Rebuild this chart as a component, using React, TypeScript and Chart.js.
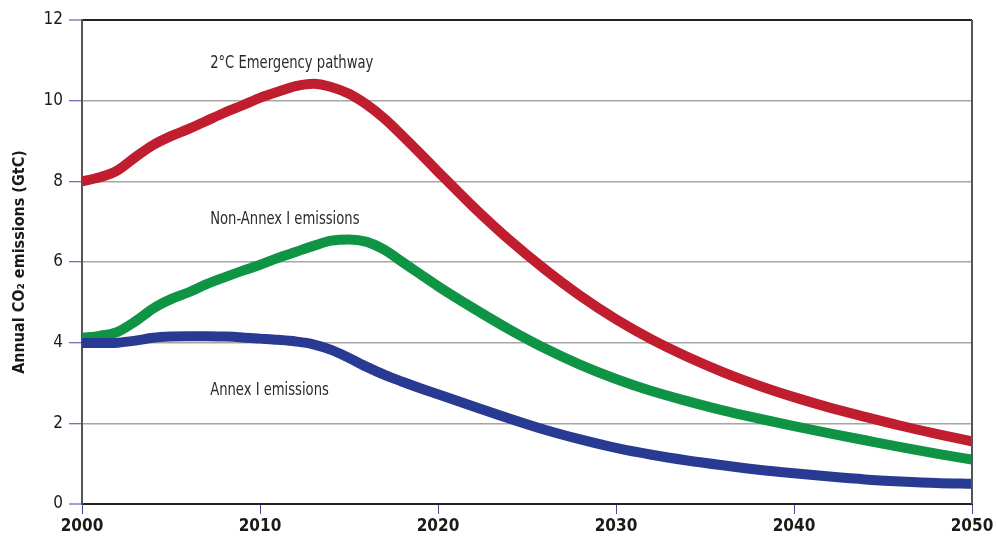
import React, { useEffect, useRef } from "react";
import { Chart, registerables } from "chart.js";

Chart.register(...registerables);

const years = [
  2000, 2001, 2002, 2003, 2004, 2005, 2006, 2007, 2008, 2009, 2010,
  2011, 2012, 2013, 2014, 2015, 2016, 2017, 2018, 2019, 2020,
  2022, 2024, 2026, 2028, 2030, 2032, 2034, 2036, 2038, 2040,
  2042, 2044, 2046, 2048, 2050,
];
const emergencyPathway = [
  8.0, 8.1, 8.27, 8.6, 8.9, 9.12, 9.3, 9.5, 9.7, 9.88, 10.07,
  10.22, 10.36, 10.42, 10.34, 10.17, 9.9, 9.55, 9.13, 8.69, 8.24,
  7.36, 6.55, 5.82, 5.16, 4.58, 4.08, 3.65, 3.27, 2.94, 2.65,
  2.39, 2.16, 1.94, 1.74, 1.55,
];
const nonAnnexI = [
  4.12, 4.17, 4.27, 4.53, 4.85, 5.08, 5.25, 5.45, 5.62, 5.78, 5.93,
  6.1, 6.25, 6.4, 6.53, 6.56, 6.5, 6.3, 6.0, 5.7, 5.4,
  4.85, 4.33, 3.86, 3.45, 3.1, 2.8, 2.55, 2.32, 2.12, 1.93,
  1.75, 1.58, 1.41, 1.25, 1.1,
];
const annexI = [
  3.99, 3.99, 4.0, 4.05, 4.12, 4.15, 4.16, 4.16, 4.15, 4.13, 4.1,
  4.07, 4.03, 3.96, 3.82, 3.62, 3.4, 3.2, 3.03, 2.87, 2.72,
  2.42, 2.12, 1.84, 1.6, 1.39, 1.22, 1.08, 0.96, 0.85, 0.76,
  0.68, 0.61, 0.56, 0.52, 0.5,
];

const xTicks = [2000, 2010, 2020, 2030, 2040, 2050];
const yTicks = [0, 2, 4, 6, 8, 10, 12];

const labelTexts = ["2°C Emergency pathway", "Non-Annex I emissions", "Annex I emissions"];
const labelYears = [2007.2, 2007.2, 2007.2];
const labelValues = [10.92, 7.05, 2.8];

const COND = '"Liberation Sans Narrow", "DejaVu Sans Condensed", "Roboto Condensed", "Liberation Sans", sans-serif';
const TICK_BLUE = "#3b4aa6";

const textPlugin = {
  id: "curveLabels",
  afterDatasetsDraw(chart: any) {
    const { ctx, scales } = chart;
    ctx.save();
    ctx.font = `17px ${COND}`;
    ctx.fillStyle = "#2b2b2b";
    ctx.textAlign = "left";
    ctx.textBaseline = "middle";
    labelTexts.forEach((t, i) => {
      const w = ctx.measureText(t).width * 0.86;
      ctx.fillText(t, scales.x.getPixelForValue(labelYears[i]), scales.y.getPixelForValue(labelValues[i]), w);
    });
    const a = chart.chartArea;
    ctx.strokeStyle = "#555";
    ctx.lineWidth = 2;
    ctx.beginPath();
    ctx.moveTo(a.right, a.top);
    ctx.lineTo(a.right, a.bottom);
    ctx.stroke();
    ctx.restore();
  },
};

export default function App() {
  const ref = useRef<HTMLCanvasElement | null>(null);
  useEffect(() => {
    if (!ref.current) return;
    const mk = (vals: number[]) => years.map((x, i) => ({ x, y: vals[i] }));
    const chart = new Chart(ref.current, {
      type: "line",
      data: {
        datasets: [
          { label: "Annex I emissions", data: mk(annexI), borderColor: "#283a92", borderWidth: 10 },
          { label: "Non-Annex I emissions", data: mk(nonAnnexI), borderColor: "#0f9446", borderWidth: 10 },
          { label: "2°C Emergency pathway", data: mk(emergencyPathway), borderColor: "#c01d2f", borderWidth: 10 },
        ],
      },
      options: {
        animation: false,
        responsive: false,
        maintainAspectRatio: false,
        elements: { point: { radius: 0 }, line: { cubicInterpolationMode: "monotone", borderCapStyle: "butt", borderJoinStyle: "round" } },
        layout: { padding: { left: 0, right: 25, top: 20, bottom: 0 } },
        plugins: { legend: { display: false }, tooltip: { enabled: false } },
        scales: {
          x: {
            type: "linear",
            min: 2000,
            max: 2050,
            afterBuildTicks: (s: any) => { s.ticks = xTicks.map((v) => ({ value: v })); },
            afterFit: (s: any) => { s.height = 42; },
            grid: { drawOnChartArea: false, drawTicks: true, tickLength: 10, tickColor: TICK_BLUE, tickWidth: 1 },
            border: { display: true, color: "#222", width: 2 },
            ticks: {
              color: "#1a1a1a",
              font: { family: COND, size: 17, weight: "bold" },
              padding: 2,
              maxRotation: 0,
              callback: (v: any) => String(v),
            },
          },
          y: {
            min: 0,
            max: 12,
            afterBuildTicks: (s: any) => { s.ticks = yTicks.map((v) => ({ value: v })); },
            afterFit: (s: any) => { s.width = 82; },
            grid: {
              color: (c: any) => (c.tick && (c.tick.value === 0 || c.tick.value === 12) ? "#222" : "#a6a6a6"),
              lineWidth: (c: any) => (c.tick && (c.tick.value === 0 || c.tick.value === 12) ? 2 : 1.5),
              drawTicks: true,
              tickLength: 13,
              tickColor: TICK_BLUE,
              tickWidth: 1,
            },
            border: { display: true, color: "#555", width: 2 },
            ticks: {
              color: "#1a1a1a",
              font: { family: COND, size: 17 },
              padding: 6,
            },
            title: {
              display: true,
              text: "Annual CO₂ emissions (GtC)",
              color: "#1a1a1a",
              font: { family: COND, size: 16, weight: "bold" },
              padding: { top: 10, bottom: 0 },
            },
          },
        },
      } as any,
      plugins: [textPlugin],
    });
    return () => chart.destroy();
  }, []);
  return (
    <div style={{ position: "absolute", left: 0, top: 0, width: 997, height: 546, background: "#fff" }}>
      <canvas ref={ref} width={997} height={546} style={{ display: "block", width: 997, height: 546 }} />
    </div>
  );
}
